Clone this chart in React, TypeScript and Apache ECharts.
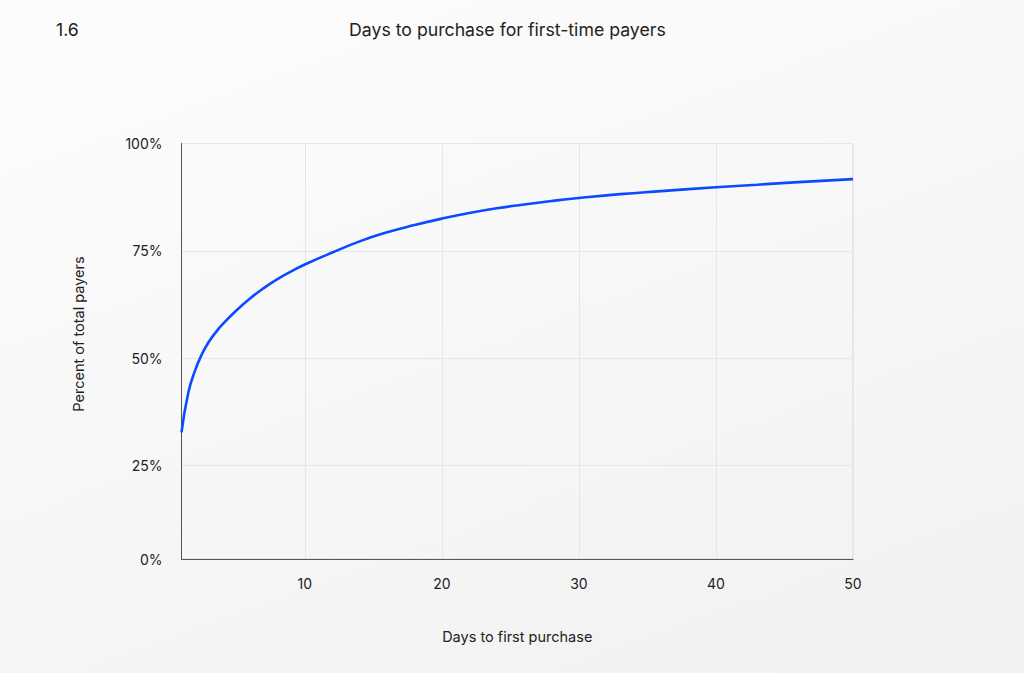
import { useEffect, useRef } from 'react';
import * as echarts from 'echarts';

// Days since first visit and the share of payers who had purchased by then (%)
const days = [1, 1.5, 2, 2.5, 3, 3.5, 4, 5, 6, 7, 8, 9, 10, 12, 14, 16, 18, 20, 22, 24, 26, 28, 30, 33, 36, 40, 43, 46, 50];
const percentPayers = [
  32.7, 42.0, 47.2, 51.0, 53.8, 56.0, 57.9, 61.1, 63.9, 66.3, 68.4, 70.2, 71.8, 74.6, 77.2, 79.3, 81.0, 82.5,
  83.8, 84.9, 85.8, 86.6, 87.3, 88.2, 88.9, 89.8, 90.4, 91.0, 91.7,
];

const xTicks = [10, 20, 30, 40, 50];
// the bottom axis sits a little above zero in the original, but is labelled 0%
const yFloor = 3.2;
const yTicks = [yFloor, 25, 50, 75, 100];

const FONT = 'Inter, "Noto Sans", sans-serif';

export default function App() {
  const chartRef = useRef<HTMLDivElement>(null);

  useEffect(() => {
    if (!chartRef.current) return;
    const chart = echarts.init(chartRef.current, null, { renderer: 'svg' });

    chart.setOption({
      animation: false,
      textStyle: { fontFamily: FONT },
      title: [
        {
          text: 'Days to purchase for first-time payers',
          left: 349,
          top: 20,
          padding: 0,
          textStyle: { fontFamily: FONT, fontSize: 17.7, fontWeight: 'normal', color: '#222' },
        },
        {
          text: '1.6',
          left: 56,
          top: 20,
          padding: 0,
          textStyle: { fontFamily: FONT, fontSize: 17.7, fontWeight: 'normal', color: '#222' },
        },
      ],
      graphic: [
        {
          type: 'text',
          x: 78,
          y: 334,
          rotation: Math.PI / 2,
          style: {
            text: 'Percent of total payers',
            font: `14.5px ${FONT}`,
            fill: '#222',
            align: 'center',
            verticalAlign: 'middle',
          },
        },
      ],
      grid: {
        left: 181.5,
        right: 171,
        top: 143.5,
        bottom: 114,
        show: true,
        borderColor: '#d8d8d8',
        borderWidth: 1,
        backgroundColor: 'transparent',
        containLabel: false,
      },
      xAxis: {
        type: 'value',
        min: 1,
        max: 50,
        name: 'Days to first purchase',
        nameLocation: 'middle',
        nameGap: 70,
        nameTextStyle: { fontFamily: FONT, fontSize: 14.5, color: '#222' },
        axisLine: { show: true, lineStyle: { color: '#555', width: 1 } },
        axisTick: { show: false, customValues: xTicks },
        axisLabel: {
          customValues: xTicks,
          color: '#222',
          fontSize: 14,
          fontFamily: FONT,
          margin: 17,
        },
        splitLine: { show: true, lineStyle: { color: '#e6e6e6', width: 1 } },
      },
      yAxis: {
        type: 'value',
        min: yFloor,
        max: 100,
        axisLine: { show: true, lineStyle: { color: '#555', width: 1 } },
        axisTick: { show: false, customValues: yTicks },
        axisLabel: {
          customValues: yTicks,
          color: '#222',
          fontSize: 14,
          fontFamily: FONT,
          margin: 19,
          formatter: (v: number) => (v <= yFloor ? '0%' : `${v}%`),
        },
        splitLine: { show: true, lineStyle: { color: '#e6e6e6', width: 1 } },
      },
      series: [
        {
          type: 'line',
          data: days.map((d, i) => [d, percentPayers[i]]),
          smooth: 0.5,
          showSymbol: false,
          lineStyle: { color: '#0a4bff', width: 2.6 },
        },
      ],
    });

    return () => {
      chart.dispose();
    };
  }, []);

  return (
    <div
      style={{
        position: 'fixed',
        left: 0,
        top: 0,
        width: 1024,
        height: 673,
        background: 'linear-gradient(160deg, #fdfdfd 0%, #f7f7f7 50%, #f1f1f1 100%)',
      }}
    >
      <div ref={chartRef} style={{ width: 1024, height: 673 }} />
    </div>
  );
}
